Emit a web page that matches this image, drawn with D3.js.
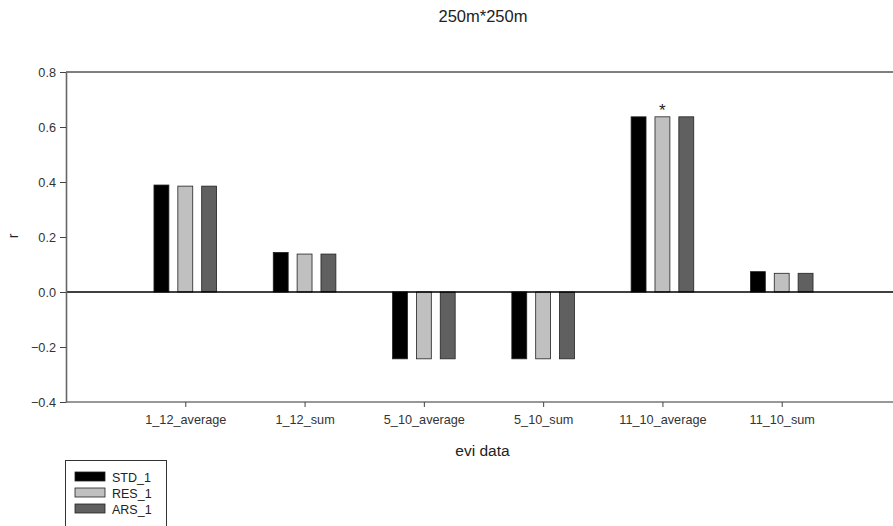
<!DOCTYPE html>
<html>
<head>
<meta charset="utf-8">
<script src="https://cdn.jsdelivr.net/npm/d3@7"></script>
<style>
  html, body { margin: 0; padding: 0; background: #fff; overflow: hidden; }
  svg { display: block; font-family: "Liberation Sans", Arial, sans-serif; }
</style>
</head>
<body>
<svg id="chart" width="893" height="526"></svg>
<script>
// evi data groups and correlation coefficients per series
const categories = ["1_12_average", "1_12_sum", "5_10_average", "5_10_sum", "11_10_average", "11_10_sum"];
const seriesNames = ["STD_1", "RES_1", "ARS_1"];
const std1 = [0.389, 0.144, -0.243, -0.243, 0.637, 0.074];
const res1 = [0.385, 0.138, -0.243, -0.243, 0.637, 0.068];
const ars1 = [0.385, 0.138, -0.243, -0.243, 0.637, 0.068];
const yTicks = [-0.4, -0.2, 0.0, 0.2, 0.4, 0.6, 0.8];
const significant = [{ cat: "11_10_average", series: "RES_1" }];

const seriesValues = [std1, res1, ars1];
const fills = ["#000000", "#c0c0c0", "#606060"];
const fontFamily = "Liberation Sans, Arial, sans-serif";

const svg = d3.select("#chart");
const width = 893;
const plotLeft = 66, plotRight = 901, plotTop = 72, plotBottom = 402;

// categories sit at positions 1..6 on a 0..7 axis; the right end runs past the page edge
const x = d3.scaleLinear().domain([0, 7]).range([plotLeft, plotRight]);
const y = d3.scaleLinear().domain([-0.4, 0.8]).range([plotBottom, plotTop]);

const offsets = [-0.2, 0, 0.2];
const barW = 0.125;

const rows = [];
categories.forEach((c, i) => {
  seriesNames.forEach((s, j) => {
    rows.push({ cat: c, idx: i, series: s, j, v: seriesValues[j][i] });
  });
});

// bars
svg.append("g").selectAll("rect").data(rows).join("rect")
  .attr("x", d => x(d.idx + 1 + offsets[d.j] - barW / 2))
  .attr("width", d => x(barW) - x(0))
  .attr("y", d => y(Math.max(0, d.v)))
  .attr("height", d => Math.abs(y(d.v) - y(0)))
  .attr("fill", d => fills[d.j])
  .attr("stroke", "#222")
  .attr("stroke-width", 0.8);

// zero reference line, top frame line and bottom axis line
[[0, 1.3, "#000"], [0.8, 1, "#000"], [-0.4, 1.2, "#333"]].forEach(([v, w, c]) => {
  svg.append("path")
    .attr("d", `M${plotLeft},${y(v)}H${width}`)
    .attr("stroke", c).attr("stroke-width", w)
    .attr("fill", "none");
});

// left axis
const yAxis = d3.axisLeft(y).tickValues(yTicks).tickFormat(d3.format(".1f")).tickSize(6).tickSizeOuter(0).tickPadding(4);
const gy = svg.append("g").attr("transform", `translate(${plotLeft},0)`).call(yAxis);
gy.select(".domain").attr("stroke", "#666").attr("stroke-width", 1.6);
gy.selectAll(".tick line").attr("stroke", "#444");
gy.selectAll("text").attr("font-size", 12.7).attr("fill", "#333").attr("font-family", fontFamily);

// bottom axis ticks and category labels
const xAxis = d3.axisBottom(x).tickValues(d3.range(1, 7)).tickFormat(d => categories[d - 1]).tickSize(5).tickSizeOuter(0).tickPadding(8);
const gx = svg.append("g").attr("transform", `translate(0,${plotBottom})`).call(xAxis);
gx.select(".domain").remove();
gx.selectAll(".tick line").attr("stroke", "#444");
gx.selectAll("text").attr("font-size", 12.7).attr("fill", "#333").attr("font-family", fontFamily);

// significance marker
significant.forEach(m => {
  const i = categories.indexOf(m.cat), j = seriesNames.indexOf(m.series);
  const v = seriesValues[j][i];
  svg.append("text")
    .attr("x", x(i + 1 + offsets[j]))
    .attr("y", y(v) - 1)
    .attr("text-anchor", "middle")
    .attr("font-size", 17)
    .attr("fill", "#222")
    .text("*");
});

// title and axis titles
svg.append("text").attr("x", 483).attr("y", 22).attr("text-anchor", "middle")
  .attr("font-size", 16.5).attr("fill", "#222").text("250m*250m");
svg.append("text").attr("x", 482.5).attr("y", 456).attr("text-anchor", "middle")
  .attr("font-size", 15.5).attr("fill", "#222").text("evi data");
svg.append("text").attr("transform", "translate(18,236) rotate(-90)").attr("text-anchor", "middle")
  .attr("font-size", 14).attr("fill", "#222").text("r");

// legend
const lg = svg.append("g");
lg.append("rect").attr("x", 65.5).attr("y", 460.5).attr("width", 101).attr("height", 70)
  .attr("fill", "#fff").attr("stroke", "#333").attr("stroke-width", 1);
seriesNames.forEach((s, j) => {
  const yy = 472 + j * 16;
  lg.append("rect").attr("x", 75).attr("y", yy).attr("width", 30).attr("height", 9)
    .attr("fill", fills[j]).attr("stroke", "#222").attr("stroke-width", 0.8);
  lg.append("text").attr("x", 112).attr("y", yy + 9.5).attr("font-size", 12.5).attr("fill", "#222").text(s);
});
</script>
</body>
</html>
